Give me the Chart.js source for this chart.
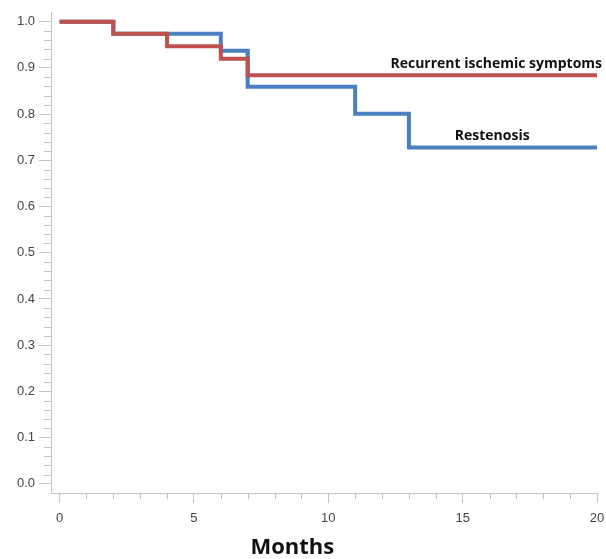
<!DOCTYPE html>
<html>
<head>
<meta charset="utf-8">
<script src="https://cdn.jsdelivr.net/npm/chart.js@4.4.1/dist/chart.umd.min.js"></script>
<style>
  html, body { margin: 0; padding: 0; background: #fff; }
</style>
</head>
<body>
<canvas id="km" width="606" height="559"></canvas>
<script>
/* Kaplan-Meier curves */
var monthsIschemic = [0, 2, 4, 6, 7, 20];
var survIschemic = [1.0, 0.974, 0.947, 0.92, 0.884, 0.884];

var monthsRestenosis = [0, 2, 6, 7, 11, 13, 20];
var survRestenosis = [1.0, 0.974, 0.937, 0.859, 0.801, 0.728, 0.728];

var yTicks = [0, 0.1, 0.2, 0.3, 0.4, 0.5, 0.6, 0.7, 0.8, 0.9, 1.0];
var xTicks = [0, 5, 10, 15, 20];

function toPoints(xs, ys) {
  return xs.map(function (x, i) { return { x: x, y: ys[i] }; });
}

// small ticks between the labelled ones, curve labels and the axis title
var extras = {
  id: 'extras',
  afterDraw: function (chart) {
    var ctx = chart.ctx;
    var xs = chart.scales.x, ys = chart.scales.y;
    var area = chart.chartArea;
    ctx.save();
    ctx.strokeStyle = '#c4c4c4';
    ctx.lineWidth = 1;
    ctx.beginPath();
    for (var i = 0; i <= 50; i++) {
      if (i % 5 === 0) continue;
      var py = Math.round(ys.getPixelForValue(i * 0.02)) + 0.5;
      ctx.moveTo(area.left - 7, py);
      ctx.lineTo(area.left, py);
    }
    for (var m = 0; m <= 20; m++) {
      if (m % 5 === 0) continue;
      var px = Math.round(xs.getPixelForValue(m)) + 0.5;
      ctx.moveTo(px, area.bottom);
      ctx.lineTo(px, area.bottom + 6);
    }
    ctx.stroke();

    ctx.fillStyle = '#111';
    ctx.font = 'bold 14px "Open Sans"';
    ctx.textBaseline = 'alphabetic';
    ctx.textAlign = 'right';
    ctx.fillText('Recurrent ischemic symptoms', xs.getPixelForValue(20) + 5, ys.getPixelForValue(0.9));
    ctx.textAlign = 'center';
    ctx.fillText('Restenosis', xs.getPixelForValue(16.1), ys.getPixelForValue(0.744));

    ctx.font = 'bold 22px "Open Sans"';
    ctx.textBaseline = 'middle';
    ctx.fillText('Months', xs.getPixelForValue(8.66), area.bottom + 55);
    ctx.restore();
  }
};

new Chart(document.getElementById('km'), {
  type: 'line',
  data: {
    datasets: [{
      label: 'Recurrent ischemic symptoms',
      data: toPoints(monthsIschemic, survIschemic),
      borderColor: '#c0504d',
      borderWidth: 4,
      stepped: true,
      pointRadius: 0,
      fill: false,
      order: 0
    }, {
      label: 'Restenosis',
      data: toPoints(monthsRestenosis, survRestenosis),
      borderColor: '#4a7fc1',
      borderWidth: 4,
      stepped: true,
      pointRadius: 0,
      fill: false,
      order: 1
    }]
  },
  options: {
    responsive: false,
    animation: false,
    layout: { padding: { top: 12, right: 9, left: 0, bottom: 0 } },
    plugins: {
      legend: { display: false },
      tooltip: { enabled: false }
    },
    scales: {
      x: {
        type: 'linear',
        min: -0.32,
        max: 20,
        afterFit: function (s) {
          s.height = 66;
          s.paddingLeft = 0;
          s.paddingRight = 0;
        },
        afterBuildTicks: function (s) {
          s.ticks = xTicks.map(function (v) { return { value: v }; });
        },
        ticks: {
          color: '#444',
          font: { family: 'Liberation Sans', size: 13 },
          padding: 8,
          maxRotation: 0,
          callback: function (v) { return v; }
        },
        grid: {
          drawOnChartArea: false,
          tickLength: 10,
          tickColor: '#c4c4c4'
        },
        border: { color: '#c4c4c4' }
      },
      y: {
        type: 'linear',
        min: -0.02,
        max: 1.021,
        afterFit: function (s) {
          s.width = 51;
          s.paddingTop = 0;
          s.paddingBottom = 0;
        },
        afterBuildTicks: function (s) {
          s.ticks = yTicks.map(function (v) { return { value: v }; });
        },
        ticks: {
          color: '#444',
          font: { family: 'Liberation Sans', size: 13 },
          padding: 4,
          callback: function (v) { return v.toFixed(1); }
        },
        grid: {
          drawOnChartArea: false,
          tickLength: 12,
          tickColor: '#c4c4c4'
        },
        border: { color: '#c4c4c4' }
      }
    }
  },
  plugins: [extras]
});
</script>
</body>
</html>
